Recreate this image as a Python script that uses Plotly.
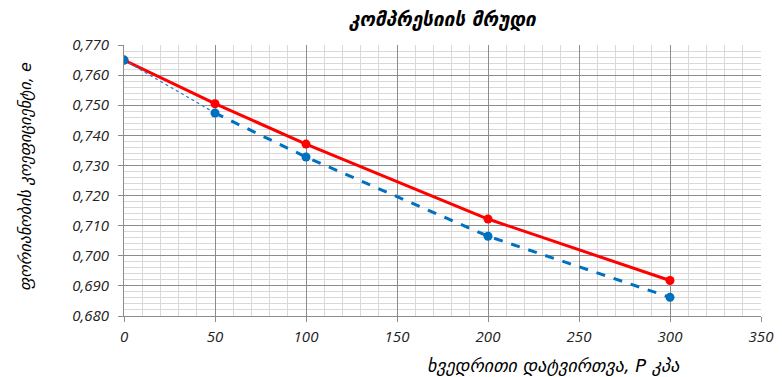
import plotly.graph_objects as go

load_kpa = [0, 50, 100, 200, 300]
e_red = [0.765, 0.7505, 0.7371, 0.7122, 0.6918]
e_blue = [0.765, 0.7474, 0.7328, 0.7065, 0.6862]

title_text = "კომპრესიის მრუდი"
x_title = "ხვედრითი დატვირთვა, P კპა"
y_title = "ფორიანობის კოეფიციენტი, e"

# page body has an 8px default margin; figure is sized to fit the window
OFF = 8
W, H = 782 - OFF, 377 - OFF
ml, mt = 124 - OFF, 45 - OFF
mr = W - (761 - OFF)
mb = H - (316 - OFF)
PW, PH = W - ml - mr, H - mt - mb


def px_x(sx):
    return (sx - OFF - ml) / PW


def px_y(sy):
    return (H - mb - (sy - OFF)) / PH


fig = go.Figure()
fig.add_trace(go.Scatter(x=load_kpa, y=e_red, mode="lines+markers",
                         line=dict(color="#FF0000", width=3),
                         marker=dict(color="#FF0000", size=9),
                         showlegend=False))
fig.add_trace(go.Scatter(x=load_kpa[:2], y=e_blue[:2], mode="lines",
                         line=dict(color="#2E75C6", width=1.2, dash="dot"),
                         showlegend=False))
fig.add_trace(go.Scatter(x=load_kpa[1:], y=e_blue[1:], mode="lines",
                         line=dict(color="#0070C0", width=3, dash="dash"),
                         showlegend=False))
fig.add_trace(go.Scatter(x=load_kpa, y=e_blue, mode="markers",
                         marker=dict(color="#0070C0", size=9),
                         showlegend=False))

tickfont = dict(family="Open Sans, DejaVu Sans", size=15, color="#222", style="italic")

fig.update_layout(
    width=W, height=H,
    margin=dict(l=ml, r=mr, t=mt, b=mb, autoexpand=False),
    paper_bgcolor="white", plot_bgcolor="white",
    separators=",.",
    xaxis=dict(range=[0, 350], dtick=50, tick0=0, showgrid=True, gridcolor="#8C8C8C",
               gridwidth=1, zeroline=False, showline=True, linecolor="#8C8C8C",
               ticks="outside", ticklen=5, tickcolor="#8C8C8C", tickfont=tickfont,
               ticklabelstandoff=2, automargin=False,
               minor=dict(dtick=10, showgrid=True, gridcolor="#D9D9D9", gridwidth=1)),
    yaxis=dict(range=[0.680, 0.770], dtick=0.01, tick0=0.68, tickformat=".3f",
               showgrid=True, gridcolor="#8C8C8C", gridwidth=1, zeroline=False,
               showline=True, linecolor="#8C8C8C", ticks="outside", ticklen=5,
               tickcolor="#8C8C8C", tickfont=tickfont, ticklabelstandoff=6,
               automargin=False,
               minor=dict(dtick=0.002, showgrid=True, gridcolor="#D9D9D9", gridwidth=1)),
    annotations=[
        dict(text=title_text, xref="paper", yref="paper",
             x=px_x(442), y=px_y(20),
             showarrow=False, xanchor="center", yanchor="middle",
             font=dict(family="DejaVu Sans", size=19, color="#000", style="italic", weight="bold")),
        dict(text=x_title, xref="paper", yref="paper",
             x=px_x(553), y=px_y(365),
             showarrow=False, xanchor="center", yanchor="middle",
             font=dict(family="DejaVu Sans", size=18, color="#000", style="italic")),
        dict(text=y_title, xref="paper", yref="paper",
             x=px_x(25), y=px_y(177),
             showarrow=False, xanchor="center", yanchor="middle", textangle=-90,
             font=dict(family="DejaVu Sans", size=16, color="#000", style="italic")),
    ],
)

fig.write_html("out.html")
